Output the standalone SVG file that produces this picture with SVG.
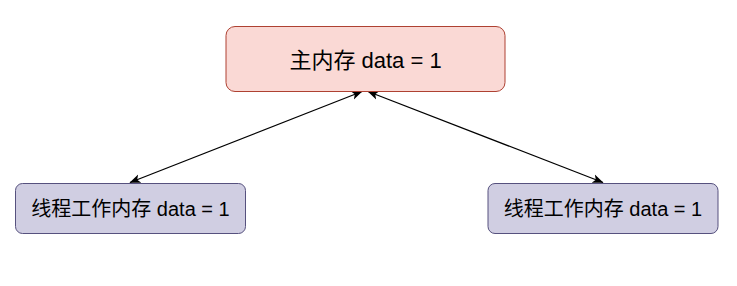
<svg xmlns="http://www.w3.org/2000/svg" width="737" height="286" viewBox="0 0 737 286">
<defs>
<style>
.t{font-family:"Liberation Sans","Noto Sans CJK SC",sans-serif;fill:#000;text-anchor:middle;dominant-baseline:central}
.main{fill:#fad9d5;stroke:#ae4132;stroke-width:1}
.thr{fill:#d0cee2;stroke:#56517e;stroke-width:1}
.c{stroke:#000;stroke-width:1.2;fill:none;marker-start:url(#a);marker-end:url(#a)}
</style>
<marker id="a" viewBox="0 0 10 10" refX="9.5" refY="5" markerWidth="11" markerHeight="11" markerUnits="userSpaceOnUse" orient="auto-start-reverse">
<path d="M0,1 L10,5 L0,9 L2.5,5 Z" fill="#000"/>
</marker>
</defs>
<rect width="737" height="286" fill="#fff"/>
<g id="connectors">
<line class="c" x1="130" y1="182.5" x2="362" y2="91.5"/>
<line class="c" x1="603" y1="182.5" x2="368" y2="91.5"/>
</g>
<g id="main-memory">
<rect class="main" x="226" y="26.5" width="279" height="65" rx="9"/>
<text class="t" x="365.5" y="60" font-size="22">主内存 data = 1</text>
</g>
<g id="thread-memory-1">
<rect class="thr" x="15.5" y="183.5" width="230" height="50" rx="7"/>
<text class="t" x="130.5" y="208.5" font-size="20">线程工作内存 data = 1</text>
</g>
<g id="thread-memory-2">
<rect class="thr" x="488" y="183.5" width="230" height="50" rx="7"/>
<text class="t" x="603" y="208.5" font-size="20">线程工作内存 data = 1</text>
</g>
</svg>
